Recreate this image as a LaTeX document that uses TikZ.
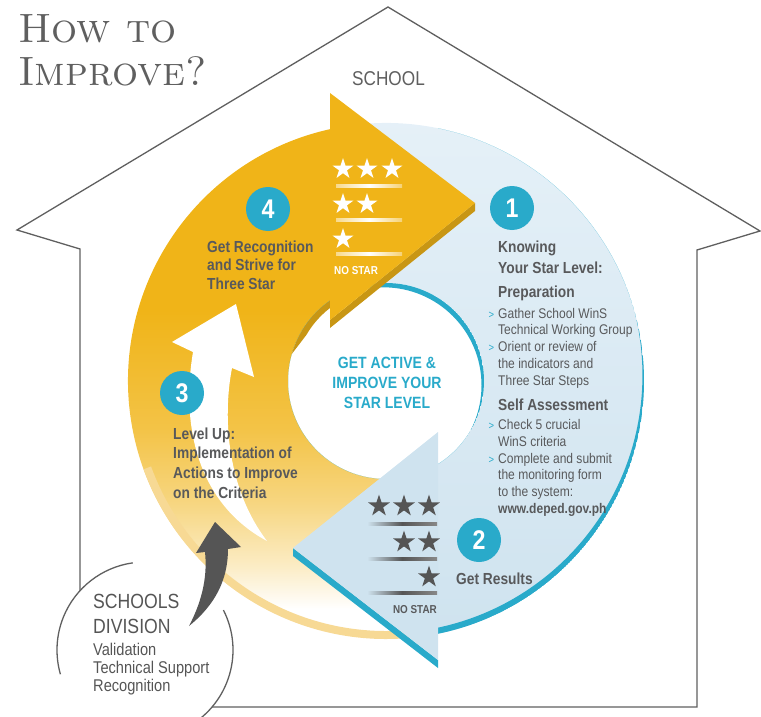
\documentclass[tikz,border=0pt]{standalone}
\usepackage{fontspec}
\newfontfamily\cond{Liberation Sans}[FakeStretch=0.86]
\usetikzlibrary{shapes.geometric,positioning}
\definecolor{starorange}{RGB}{240,180,24}
\definecolor{orangedark}{RGB}{200,150,20}
\definecolor{rimorange}{RGB}{247,217,148}
\definecolor{stepteal}{RGB}{41,170,202}
\definecolor{blueA}{RGB}{230,241,248}
\definecolor{blueB}{RGB}{207,227,239}
\definecolor{textgray}{RGB}{88,89,91}
\definecolor{housegray}{RGB}{95,95,95}
\definecolor{arrowgray}{RGB}{85,85,85}
\pgfdeclareverticalshading{orangefade}{100bp}{color(0bp)=(white); color(30bp)=(white); color(34bp)=(starorange!25); color(40bp)=(starorange!55); color(47bp)=(starorange!80); color(58bp)=(starorange); color(100bp)=(starorange)}
\newcommand\bul{\llap{\textcolor{stepteal}{\fontsize{11}{11}\selectfont>}\hspace{4pt}}}
\tikzset
{
    houseline/.style = {draw=housegray, line width=1.3pt},
    stepnum/.style   = {circle, fill=stepteal, minimum size=44, inner sep=0, text=white, font=\cond\bfseries\fontsize{27}{27}\selectfont},
    steptext/.style  = {text=textgray, align=left, inner sep=0, anchor=base west, font=\cond\bfseries\fontsize{16}{18.2}\selectfont},
    headtext/.style  = {text=textgray, align=left, inner sep=0, anchor=base west, font=\cond\bfseries\fontsize{16}{20.6}\selectfont},
    bodytext/.style  = {text=textgray, align=left, inner sep=0, anchor=base west, font=\cond\fontsize{14}{16.7}\selectfont},
    nostar/.style    = {inner sep=0, font=\cond\bfseries\fontsize{11.5}{11.5}\selectfont},
    whitestar/.style = {star, star points=5, star point ratio=2.618, fill=white, inner sep=0, minimum size=22},
    darkstar/.style  = {whitestar, fill=arrowgray, minimum size=23}
}
\begin{document}
\begin{tikzpicture}[x=1pt,y=-1pt]
    \useasboundingbox (0,0) rectangle (761,717);
    \coordinate (C) at (386,381);
    \coordinate (D) at (145,650);
    % house outline
    \draw[houseline] (80,591) -- (80,249) -- (17,230) -- (388,7) -- (760,231) -- (697,250) -- (697,707) -- (212,707);
    \draw[houseline] ([shift={(262:88)}]D) arc[start angle=262, end angle=164, radius=88];
    \draw[houseline] ([shift={(333:88)}]D) arc[start angle=333, end angle=420, radius=88];
    \node [text=housegray, inner sep=0, anchor=base west, align=left, font=\rmfamily\scshape\fontsize{41}{43}\selectfont] (title) at (18,85) {How to\\Improve?};
    \node [text=housegray, inner sep=0, anchor=base, font=\cond\fontsize{20}{20}\selectfont] (school) at (388.5,85) {SCHOOL};

    % blue band
    \shade[top color=blueA, bottom color=blueB] ([shift={(257.5:258)}]C) arc[start angle=257.5, end angle=438.4, radius=258]
        -- ([shift={(58:98)}]C) arc[start angle=418, end angle=235, radius=98] -- cycle;
    \coordinate (Ct) at ([shift={(255:6)}]C);
    \begin{scope}
        \clip (438,0) rectangle (761,717);
        \clip (C) circle (258);
        \fill[stepteal, even odd rule] (C) circle (258) (Ct) circle (258);
    \end{scope}

    % orange band
    \shade[shading=orangefade] ([shift={(78.4:258)}]C) arc[start angle=78.4, end angle=257.5, radius=258]
        -- ([shift={(235:98)}]C) arc[start angle=235, end angle=58, radius=98] -- cycle;
    \draw[rimorange, line width=8pt] ([shift={(78.4:254)}]C) arc[start angle=78.4, end angle=160, radius=254];

    % white arrow
    \fill[white] (236,304) -- (254,377) -- (232,368) .. controls (222,420) and (228,490) .. (267,541)
        .. controls (200,505) and (180,430) .. (193,352) -- (172,342) -- cycle;

    % inner lips
    \coordinate (Ci) at ([shift={(120:5)}]C);
    \begin{scope}
        \clip (C) circle (98);
        \fill[stepteal, even odd rule] (C) circle (98) (Ci) circle (98);
    \end{scope}
    \fill[orangedark] ([shift={(196:98)}]C) arc[start angle=196, end angle=235, radius=98]
        -- ([shift={(235:92)}]C) arc[start angle=235, end angle=210, radius=92] -- cycle;

    % arrow heads
    \fill[orangedark] (475,203) -- (475,211) -- (330,328) -- (330,320) -- cycle;
    \fill[starorange] (330,93) -- (475,203) -- (330,320) -- cycle;
    \fill[stepteal] (293,548) -- (293,556) -- (438,668) -- (438,660) -- cycle;
    \fill[blueB] (438,432) -- (293,548) -- (438,660) -- cycle;

    % schools division arrow
    \fill[arrowgray] (215,522) -- (241,547) -- (228,549) .. controls (228,580) and (215,605) .. (189,626)
        .. controls (200,605) and (208,580) .. (205,552) -- (196,553) -- cycle;

    % star levels
    \foreach \x in {343,367,392} \node[whitestar] (w3-\x) at (\x,169) {};
    \foreach \x in {343,367} \node[whitestar] (w2-\x) at (\x,204) {};
    \node[whitestar] (w1) at (343,239) {};
    \foreach \y in {186,220,254}
        \shade[left color=white!50!starorange, right color=white!40!starorange, middle color=white] (336,\y-1.2) rectangle (402,\y+1.2);
    \node[nostar, text=white, anchor=base west] (nsw) at (334,274.3) {NO STAR};
    \foreach \x in {379,404,429} \node[darkstar] (d3-\x) at (\x,506) {};
    \foreach \x in {404,429} \node[darkstar] (d2-\x) at (\x,542) {};
    \node[darkstar] (d1) at (429,577) {};
    \foreach \y in {524,559,593}
        \shade[left color=blueB, right color=arrowgray!70, middle color=arrowgray] (367,\y-1.2) rectangle (437,\y+1.2);
    \node[nostar, text=textgray, anchor=base east] (nsd) at (437,613.3) {NO STAR};

    % steps
    \node[stepnum] (n1) at (512,208) {1};
    \node[stepnum] (n2) at (479,540) {2};
    \node[stepnum] (n3) at (182,393) {3};
    \node[stepnum] (n4) at (268,209) {4};
    \node[headtext] (t1a) at (498,273.3) {Knowing\\Your Star Level:};
    \node[headtext] (t1b) at (498,297.3) {Preparation};
    \node[bodytext] (t1c) at (498,385) {\bul Gather School WinS\\Technical Working Group\\\bul Orient or review of\\the indicators and\\Three Star Steps};
    \node[headtext] (t1d) at (498,410) {Self Assessment};
    \node[bodytext] (t1e) at (498,513.3) {\bul Check 5 crucial\\WinS criteria\\\bul Complete and submit\\the monitoring form\\to the system:\\\textbf{www.deped.gov.ph}};
    \node[steptext] (t2) at (456,584.3) {Get Results};
    \node[steptext, font=\cond\bfseries\fontsize{16}{19.7}\selectfont] (t3) at (173,498.3) {Level Up:\\Implementation of\\Actions to Improve\\on the Criteria};
    \node[steptext] (t4) at (207,289) {Get Recognition\\and Strive for\\Three Star};
    \node[text=stepteal, inner sep=0, anchor=base, align=center, font=\cond\bfseries\fontsize{16.3}{20}\selectfont] (goal) at (387,408.3) {GET ACTIVE \&\\IMPROVE YOUR\\STAR LEVEL};

    % schools division
    \node[text=arrowgray, inner sep=0, anchor=base west, align=left, font=\cond\fontsize{20.5}{25}\selectfont] (div) at (93,633.3) {SCHOOLS\\DIVISION};
    \node[text=arrowgray, inner sep=0, anchor=base west, align=left, font=\cond\fontsize{17}{18.3}\selectfont] (divsub) at (93,691.7) {Validation\\Technical Support\\Recognition};
\end{tikzpicture}
\end{document}
